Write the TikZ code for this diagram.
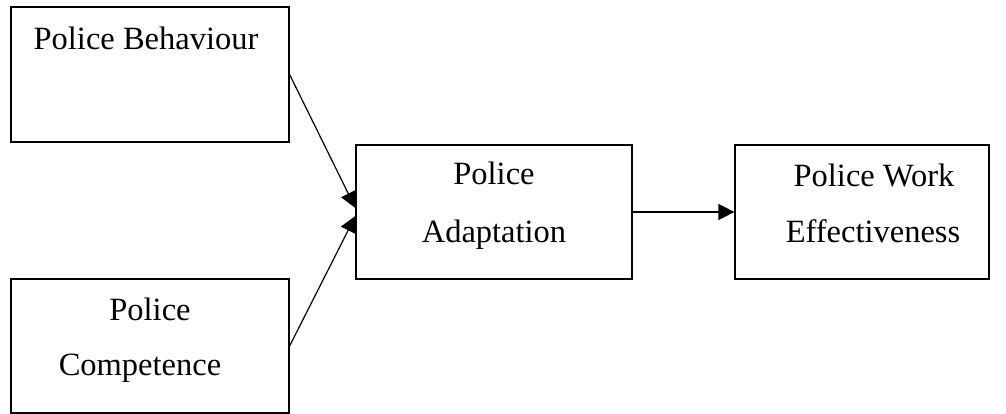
\documentclass[tikz,border=0pt]{standalone}
\usepackage{fontspec}
\setmainfont{Liberation Serif}
\usetikzlibrary{arrows.meta,calc}
\begin{document}
\begin{tikzpicture}[x=1pt,y=-1pt,
  box/.style={draw,line width=1.2pt,inner sep=0pt},
  lbl/.style={anchor=base,inner sep=0pt,font=\fontsize{32.5}{38}\selectfont},
  conn/.style={line width=1.2pt,-{Triangle[length=16pt,width=16pt]}}]
\useasboundingbox (0,0) rectangle (1006,414);
\node[box,minimum width=278pt,minimum height=135pt] (b1) at (150,74.5) {};
\node[box,minimum width=278pt,minimum height=134pt] (b2) at (150,346) {};
\node[box,minimum width=276pt,minimum height=134pt] (b3) at (494,212) {};
\node[box,minimum width=254pt,minimum height=134pt] (b4) at (862,212) {};
\node[lbl] (t1) at (146,50) {Police Behaviour};
\node[lbl] (t2a) at (150,320) {Police};
\node[lbl] (t2b) at (140,375) {Competence};
\node[lbl] (t3a) at (494,185) {Police};
\node[lbl] (t3b) at (494,242) {Adaptation};
\node[lbl] (t4a) at (874,186) {Police Work};
\node[lbl] (t4b) at (873,242) {Effectiveness};
\draw[conn] (b1.east) -- ($(b3.west)+(0,-4)$);
\draw[conn] (b2.east) -- ($(b3.west)+(0,4)$);
\draw[conn] (b3.east) -- (b4.west);
\end{tikzpicture}
\end{document}
